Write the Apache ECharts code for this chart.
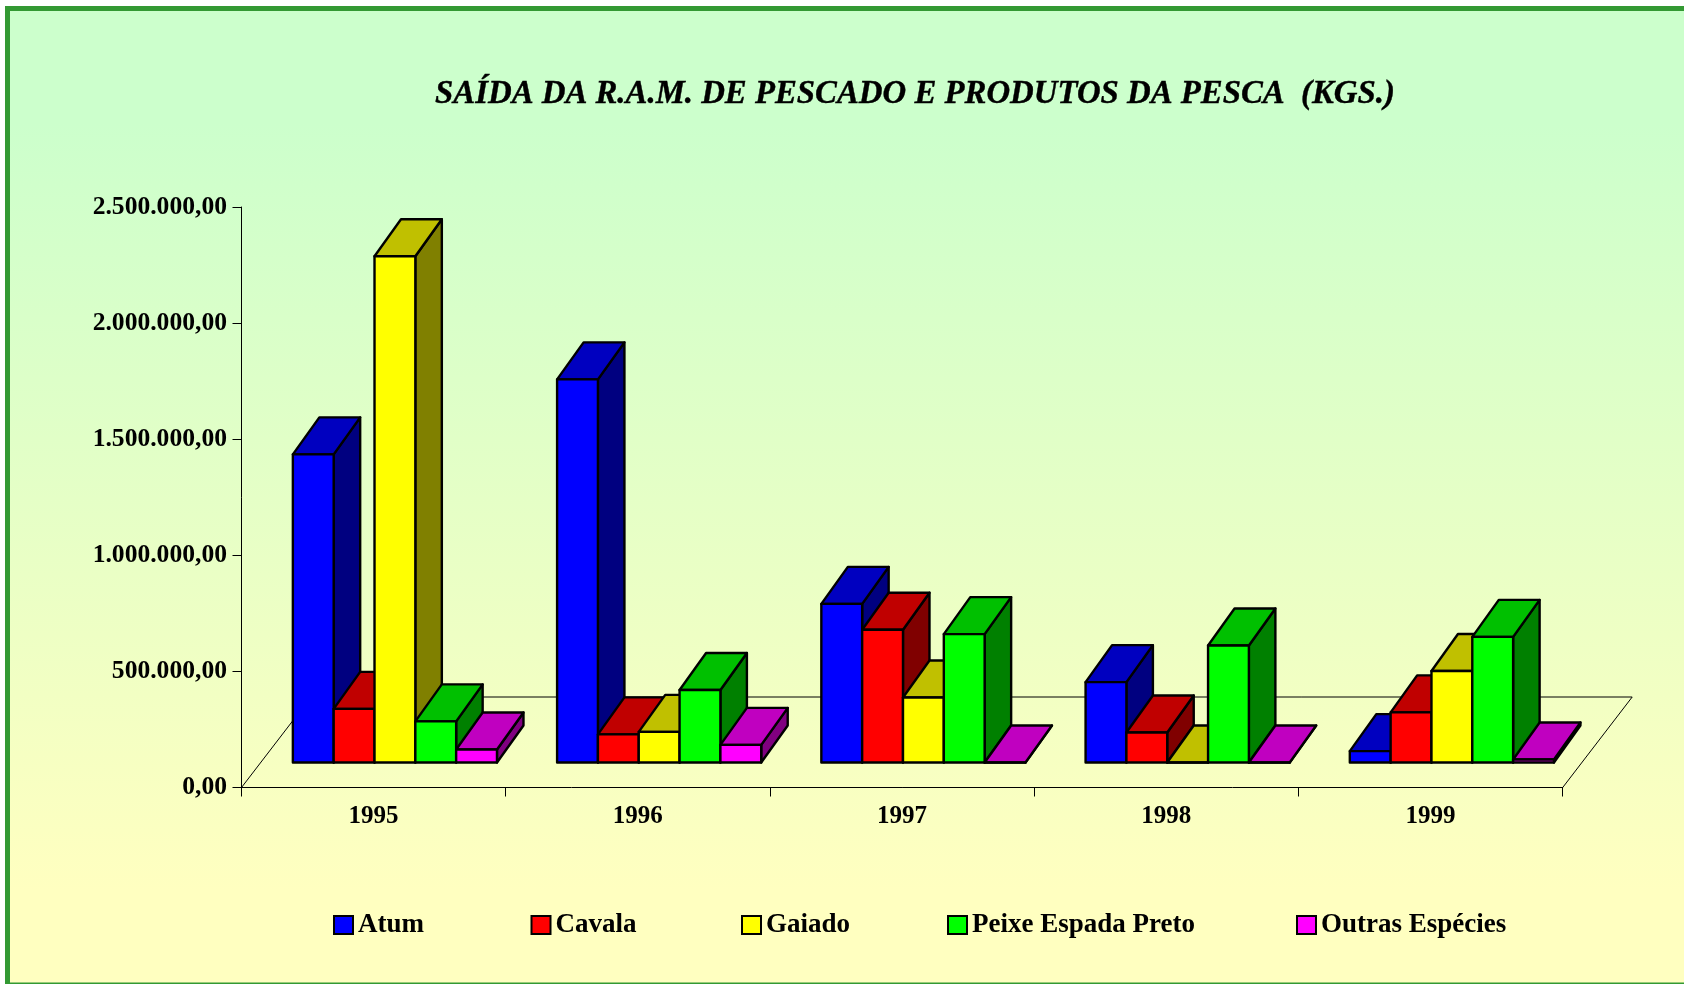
<!DOCTYPE html>
<html><head><meta charset="utf-8">
<style>html,body{margin:0;padding:0;background:#fff}#c{width:1684px;height:984px}</style>
<script src="https://cdn.jsdelivr.net/npm/echarts@6/dist/echarts.min.js"></script>
</head><body><div id="c"></div>
<script>
const categories = ['1995','1996','1997','1998','1999'];
const titleText = 'SAÍDA DA R.A.M. DE PESCADO E PRODUTOS DA PESCA  (KGS.)';
const yTickLabels = ['0,00','500.000,00','1.000.000,00','1.500.000,00','2.000.000,00','2.500.000,00'];
const atum   = [1327000,1650000,683000,346000,49000];
const cavala = [231000,121000,572000,129000,216000];
const gaiado = [2180000,132000,280000,0,394000];
const peixe  = [177000,312000,553000,504000,541000];
const outras = [56000,76000,0,0,13000];
const legendLefts = [333,530.5,741,947,1296];
const seriesDefs = [
  {name:'Atum', values:atum, front:'#0000FF', top:'#0000C0', side:'#000080'},
  {name:'Cavala', values:cavala, front:'#FF0000', top:'#C00000', side:'#800000'},
  {name:'Gaiado', values:gaiado, front:'#FFFF00', top:'#C0C000', side:'#808000'},
  {name:'Peixe Espada Preto', values:peixe, front:'#00FF00', top:'#00C000', side:'#008000'},
  {name:'Outras Espécies', values:outras, front:'#FF00FF', top:'#C000C0', side:'#800080'}
];
const FONT = '"Liberation Serif","Times New Roman",serif';
const floorLift = 25, floorDx = 69.5, floorDy = -90.5, barDx = 26.5, barDy = -37, groupShift = 21.3, barFrac = 0.1545;

function barItem(i, def){
  return function(params, api){
    const cat = api.value(0), v = api.value(1);
    const base = api.coord([cat, 0]), top = api.coord([cat, v]);
    const w = api.size([1,0])[0]*barFrac;
    const x0 = base[0] + groupShift + (i-2.5)*w, x1 = x0 + w;
    const y0 = base[1] - floorLift, y1 = top[1] - floorLift;
    const st = c => ({fill:c, stroke:'#000', lineWidth:2.4, lineJoin:'round'});
    const poly = (pts,c) => ({type:'polygon', shape:{points:pts}, style:st(c)});
    return {type:'group', children:[
      poly([[x1,y0],[x1+barDx,y0+barDy],[x1+barDx,y1+barDy],[x1,y1]], def.side),
      poly([[x0,y1],[x0+barDx,y1+barDy],[x1+barDx,y1+barDy],[x1,y1]], def.top),
      poly([[x0,y0],[x1,y0],[x1,y1],[x0,y1]], def.front)
    ]};
  };
}
function floorItem(params, api){
  const a = api.coord([0,0]), b = api.coord([categories.length-1,0]);
  const hw = api.size([1,0])[0]/2;
  const l = a[0]-hw, r = b[0]+hw, y = a[1];
  return {type:'polyline', shape:{points:[[l,y],[l+floorDx,y+floorDy],[r+floorDx,y+floorDy],[r,y]]},
    style:{fill:null, stroke:'#000', lineWidth:1}};
}
const series = [{type:'custom', name:'floor', silent:true, z:1, coordinateSystem:'cartesian2d', renderItem:floorItem, data:[[0,0]], encode:{x:0,y:1}}]
  .concat(seriesDefs.map((d,i)=>({
    type:'custom', name:d.name, coordinateSystem:'cartesian2d', z:2+i, renderItem:barItem(i,d),
    itemStyle:{color:d.front, borderColor:'#000', borderWidth:2.4},
    encode:{x:0,y:1}, data:d.values.map((v,k)=>[k,v])
  })));
const chart = echarts.init(document.getElementById('c'), null, {renderer:'canvas', width:1684, height:984});
chart.setOption({
  animation:false,
  backgroundColor:'#fff',
  graphic:[{type:'rect', z:-10, silent:true, shape:{x:7.5,y:8.5,width:1700,height:976.5},
    style:{fill:new echarts.graphic.LinearGradient(0,0,0,1,[{offset:0,color:'#CCFFCC'},{offset:0.12,color:'#CCFFCC'},{offset:0.9,color:'#FFFFC0'},{offset:1,color:'#FFFFC0'}]), stroke:'#339933', lineWidth:5}}],
  title:{text:titleText, left:910, top:73, textAlign:'center',
    textStyle:{fontFamily:FONT, fontSize:32.8, fontWeight:'bold', fontStyle:'italic', color:'#000', textBorderColor:'#000', textBorderWidth:0.4}},
  legend:seriesDefs.map((d,i)=>({data:[d.name], left:legendLefts[i], top:911.5, padding:0, itemWidth:19, itemHeight:18, itemGap:0, icon:'rect',
    textStyle:{fontFamily:FONT, fontSize:27, fontWeight:'bold', color:'#000'}})),
  grid:{left:241.5, top:207, width:1321.2, height:580.5},
  xAxis:{type:'category', data:categories, boundaryGap:true,
    axisLine:{lineStyle:{color:'#000', width:1}}, axisTick:{show:true, length:9, lineStyle:{color:'#000'}},
    axisLabel:{fontFamily:FONT, fontSize:25, fontWeight:'bold', color:'#000', margin:17}, splitLine:{show:false}},
  yAxis:{type:'value', min:0, max:2500000, interval:500000,
    axisLine:{show:true, lineStyle:{color:'#000', width:1}}, axisTick:{show:true, length:9, lineStyle:{color:'#000'}},
    axisLabel:{fontFamily:FONT, fontSize:25.6, fontWeight:'bold', color:'#000', margin:14.5, padding:[8,0,0,0], formatter:v=>yTickLabels[Math.round(v/500000)]}, splitLine:{show:false}},
  series
});
</script></body></html>
